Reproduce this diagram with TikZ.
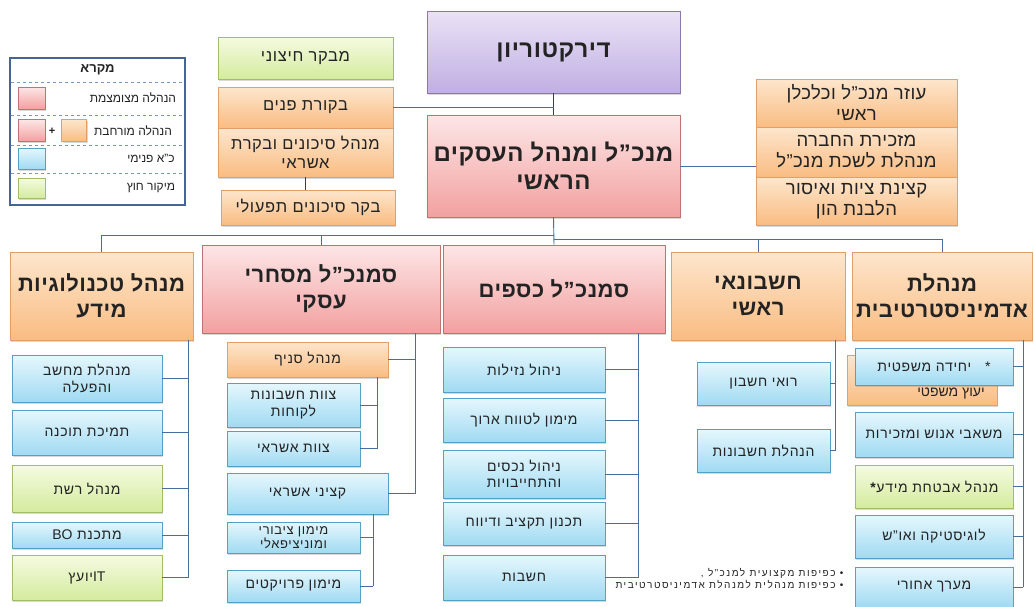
\documentclass[tikz,border=0pt]{standalone}
\usepackage{fontspec}
\setmainfont[Script=Hebrew]{Liberation Sans}
\newfontfamily\latinfont{Liberation Sans}
\TeXXeTstate=1
\usetikzlibrary{positioning, shadows}
\definecolor{RedTop}{RGB}{253,230,230}
\definecolor{RedBot}{RGB}{242,160,160}
\definecolor{RedLine}{RGB}{190,115,115}
\definecolor{OrTop}{RGB}{253,230,205}
\definecolor{OrBot}{RGB}{249,188,130}
\definecolor{OrLine}{RGB}{225,160,105}
\definecolor{BlTop}{RGB}{230,247,253}
\definecolor{BlBot}{RGB}{160,218,242}
\definecolor{BlLine}{RGB}{85,160,195}
\definecolor{GrTop}{RGB}{245,251,225}
\definecolor{GrBot}{RGB}{212,235,158}
\definecolor{GrLine}{RGB}{160,190,105}
\definecolor{PuTop}{RGB}{234,226,246}
\definecolor{PuBot}{RGB}{192,175,226}
\definecolor{PuLine}{RGB}{140,120,175}
\definecolor{LineBlue}{RGB}{70,110,160}
\definecolor{DarkLine}{RGB}{60,60,70}
\definecolor{TextGray}{RGB}{35,35,35}
\definecolor{LegendLine}{RGB}{70,100,150}
\definecolor{SepLine}{RGB}{120,150,190}
\newcommand{\heb}[1]{\beginR#1\endR}
\newcommand{\lat}[1]{\beginL{\latinfont #1}\endL}

\begin{document}
\begin{tikzpicture}[x=1pt, y=-1pt,
    every node/.style={font=\fontsize{14}{16.5}\selectfont\addfontfeature{LetterSpace=5},
                       text=TextGray, align=center, inner sep=1.5pt},
    sz/.style 2 args={minimum width=#1, minimum height=#2},
    boxbase/.style={draw, line width=0.6pt,
                    drop shadow={shadow xshift=1.2pt, shadow yshift=-1.5pt, opacity=0.3}},
    redbox/.style={boxbase, draw=RedLine, top color=RedTop, bottom color=RedBot},
    orangebox/.style={boxbase, draw=OrLine, top color=OrTop, bottom color=OrBot},
    bluebox/.style={boxbase, draw=BlLine, top color=BlTop, bottom color=BlBot},
    greenbox/.style={boxbase, draw=GrLine, top color=GrTop, bottom color=GrBot},
    purplebox/.style={boxbase, draw=PuLine, top color=PuTop, bottom color=PuBot},
    headtxt/.style={font=\fontsize{24}{28}\selectfont\bfseries\addfontfeature{LetterSpace=2}},
    subtxt/.style={font=\fontsize{22}{26}\selectfont\bfseries\addfontfeature{LetterSpace=2}},
    sidetxt/.style={font=\fontsize{16.5}{19}\selectfont\addfontfeature{LetterSpace=4}},
    stafftxt/.style={font=\fontsize{18.5}{21}\selectfont\addfontfeature{LetterSpace=2}},
    legtxt/.style={font=\fontsize{12}{14}\selectfont},
    notetxt/.style={font=\fontsize{10}{12}\selectfont\addfontfeature{LetterSpace=15}},
    conn/.style={draw=LineBlue, line width=0.9pt},
    darkconn/.style={draw=DarkLine, line width=0.9pt}
]
\fill[white] (0,0) rectangle (1034,606);
\useasboundingbox (0,0) rectangle (1034,606);

% legend
\node[draw=LegendLine, line width=1.2pt, fill=white, sz={175}{147}] (legend) at (97.5,131.5) {};
\node[font=\fontsize{13}{15}\selectfont\bfseries] (legtitle) at (97.5,70) {\heb{מקרא}};
\foreach \yy in {82,115,145,173}
  \draw[dashed, SepLine, line width=0.6pt] (11,\yy) -- (184,\yy);
\node[redbox, sz={27}{22}, inner sep=0pt] (keyred) at (31.5,98) {};
\node[redbox, sz={27}{22}, inner sep=0pt] (keyred2) at (31.5,130.5) {};
\node[font=\fontsize{11}{12}\selectfont\bfseries] (keyplus) at (52,131) {+};
\node[orangebox, sz={25}{22}, inner sep=0pt] (keyorange) at (74,130.5) {};
\node[bluebox, sz={27}{21}, inner sep=0pt] (keyblue) at (31.5,158.5) {};
\node[greenbox, sz={27}{20}, inner sep=0pt] (keygreen) at (31.5,188) {};
\node[legtxt] (keytxt1) at (133,98) {\heb{הנהלה מצומצמת}};
\node[legtxt] (keytxt2) at (133,130.5) {\heb{הנהלה מורחבת}};
\node[legtxt] (keytxt3) at (151,158.5) {\heb{כ"א פנימי}};
\node[legtxt] (keytxt4) at (151,188) {\heb{מיקור חוץ}};

% top level
\node[purplebox, headtxt, sz={253}{82}] (board) at (553.5,52) {\heb{דירקטוריון}};
\node[redbox, headtxt, sz={253}{102}] (ceo) at (553.5,166) {\heb{מנכ"ל ומנהל העסקים}\\\heb{הראשי}};

\node[greenbox, sidetxt, sz={175}{42}] (extaud) at (305.5,58) {\heb{מבקר חיצוני}};
\node[orangebox, sidetxt, sz={175}{41}] (intaud) at (305.5,107.5) {\heb{בקורת פנים}};
\node[orangebox, sidetxt, sz={175}{49}] (riskmgr) at (305.5,152.5) {\heb{מנהל סיכונים ובקרת}\\\heb{אשראי}};
\node[orangebox, sidetxt, sz={174}{35}] (oprisk) at (308,207.5) {\heb{בקר סיכונים תפעולי}};

\node[orangebox, stafftxt, sz={201}{48}] (asst) at (856.5,103) {\heb{עוזר מנכ"ל וכלכלן}\\\heb{ראשי}};
\node[orangebox, stafftxt, sz={201}{50}] (secr) at (856.5,152) {\heb{מזכירת החברה}\\\heb{מנהלת לשכת מנכ"ל}};
\node[orangebox, stafftxt, sz={201}{48}] (compl) at (856.5,201) {\heb{קצינת ציות ואיסור}\\\heb{הלבנת הון}};

\draw[darkconn] (board) -- (ceo);
\draw[conn] (intaud.east) -- (intaud.east -| board.south);
\draw[darkconn] (riskmgr.south) -- (riskmgr.south |- oprisk.north);
\draw[conn] (ceo.east) -- (ceo.east -| secr.west);

% second level
\node[orangebox, subtxt, sz={183}{88}] (itmgr) at (101.5,296) {\heb{מנהל טכנולוגיות}\\\heb{מידע}};
\node[redbox, subtxt, sz={238}{88}] (salesvp) at (321,289) {\heb{סמנכ"ל מסחרי}\\\heb{עסקי}};
\node[redbox, subtxt, sz={222}{88}] (cfo) at (554,289) {\heb{סמנכ"ל כספים}};
\node[orangebox, subtxt, sz={174}{88}] (chiefacc) at (758,296) {\heb{חשבונאי}\\\heb{ראשי}};
\node[orangebox, subtxt, sz={180}{88}] (adminmgr) at (942,296) {\heb{מנהלת}\\\heb{אדמיניסטרטיבית}};

\draw[conn] (ceo.south) -- (cfo.north);
\draw[conn] (ceo.south) ++(0,18) -| (itmgr.north);
\draw[conn] (ceo.south) ++(0,18) -| (salesvp.north);
\draw[conn] (ceo.south) ++(0,22) -| (chiefacc.north);
\draw[conn] (ceo.south) ++(0,22) -| (adminmgr.north);

% information technology
\node[bluebox, sz={150}{47}] (itops) at (87,378.5) {\heb{מנהלת מחשב}\\\heb{והפעלה}};
\node[bluebox, sz={150}{45}] (itsupport) at (87,432.5) {\heb{תמיכת תוכנה}};
\node[greenbox, sz={150}{47}] (itnet) at (87,488.5) {\heb{מנהל רשת}};
\node[bluebox, sz={150}{26}] (itbo) at (87,535) {\heb{מתכנת \lat{BO}}};
\node[greenbox, sz={150}{45}] (itadvisor) at (87,577.5) {\heb{יועץ}{\latinfont IT}};
\coordinate (itbus) at (188,0);
\draw[conn] (itmgr.south -| itbus) -- (itadvisor.east -| itbus);
\foreach \c in {itops, itsupport, itnet, itbo, itadvisor}
  \draw[conn] (\c.east) -- (\c.east -| itbus);

% sales
\node[orangebox, sz={161}{35}] (branch) at (307.5,359.5) {\heb{מנהל סניף}};
\node[bluebox, sz={133}{44}] (teamacc) at (293.5,405) {\heb{צוות חשבונות}\\\heb{לקוחות}};
\node[bluebox, sz={133}{35}] (teamcred) at (293.5,448.5) {\heb{צוות אשראי}};
\node[bluebox, sz={161}{41}] (credoff) at (307.5,493.5) {\heb{קציני אשראי}};
\node[bluebox, sz={133}{31}, font=\fontsize{13}{14}\selectfont\addfontfeature{LetterSpace=5}, inner sep=0.5pt] (pubfin) at (293.5,537.5) {\heb{מימון ציבורי}\\\heb{ומוניציפאלי}};
\node[bluebox, sz={133}{32}] (projfin) at (293.5,586) {\heb{מימון פרויקטים}};
\coordinate (salesbus) at (415,0);
\coordinate (branchbus) at (377,0);
\coordinate (credbus) at (373,0);
\draw[conn] (salesvp.south -| salesbus) -- (credoff.east -| salesbus);
\foreach \c in {branch, credoff}
  \draw[conn] (\c.east) -- (\c.east -| salesbus);
\draw[conn] (branch.south -| branchbus) -- (teamcred.east -| branchbus);
\foreach \c in {teamacc, teamcred}
  \draw[conn] (\c.east) -- (\c.east -| branchbus);
\draw[conn] (credoff.south -| credbus) -- (projfin.east -| credbus);
\foreach \c in {pubfin, projfin}
  \draw[conn] (\c.east) -- (\c.east -| credbus);

% finance
\node[bluebox, sz={162}{45}] (liquid) at (524,369.5) {\heb{ניהול נזילות}};
\node[bluebox, sz={162}{44}] (longfin) at (524,420) {\heb{מימון לטווח ארוך}};
\node[bluebox, sz={162}{48}] (alm) at (524,474) {\heb{ניהול נכסים}\\\heb{והתחייבויות}};
\node[bluebox, sz={162}{43}] (budget) at (524,523.5) {\heb{תכנון תקציב ודיווח}};
\node[bluebox, sz={162}{45}] (controller) at (524,577.5) {\heb{חשבות}};
\coordinate (finbus) at (638,0);
\draw[conn] (cfo.south -| finbus) -- (controller.east -| finbus);
\foreach \c in {liquid, longfin, alm, budget, controller}
  \draw[conn] (\c.east) -- (\c.east -| finbus);

% accounting
\node[bluebox, sz={133}{43}] (cpa) at (763.5,383.5) {\heb{רואי חשבון}};
\node[bluebox, sz={133}{43}] (bookkeep) at (763.5,450.5) {\heb{הנהלת חשבונות}};
\coordinate (accbus) at (835,0);
\draw[conn] (chiefacc.south -| accbus) -- (bookkeep.east -| accbus);
\foreach \c in {cpa, bookkeep}
  \draw[conn] (\c.east) -- (\c.east -| accbus);

% administration
\node[orangebox, sz={150}{50}] (legaladv) at (922,380) {};
\node[font=\fontsize{14}{16}\selectfont] (legaladvtxt) at (951,394) {\heb{יעוץ משפטי}};
\node[bluebox, sz={158}{37}] (legal) at (934,366.5) {\heb{*\quad יחידה משפטית}};
\node[bluebox, sz={158}{45}] (hr) at (934,434.5) {\heb{משאבי אנוש ומזכירות}};
\node[greenbox, sz={158}{43}] (infosec) at (934,486.5) {\heb{מנהל אבטחת מידע\textbf{*}}};
\node[bluebox, sz={158}{43}] (logist) at (934,536.5) {\heb{לוגיסטיקה ואו"ש}};
\node[bluebox, sz={158}{40}] (backoff) at (934,587) {\heb{מערך אחורי}};
\coordinate (adminbus) at (1023,0);
\draw[conn] (adminmgr.south -| adminbus) -- (backoff.east -| adminbus);
\foreach \c in {legal, hr, infosec, logist, backoff}
  \draw[conn] (\c.east) -- (\c.east -| adminbus);

\node[notetxt, anchor=east, align=right] (notes) at (845,579) {\heb{• כפיפות מקצועית למנכ"ל ,}\\\heb{• כפיפות מנהלית למנהלת אדמיניסטרטיבית}};
\end{tikzpicture}
\end{document}
